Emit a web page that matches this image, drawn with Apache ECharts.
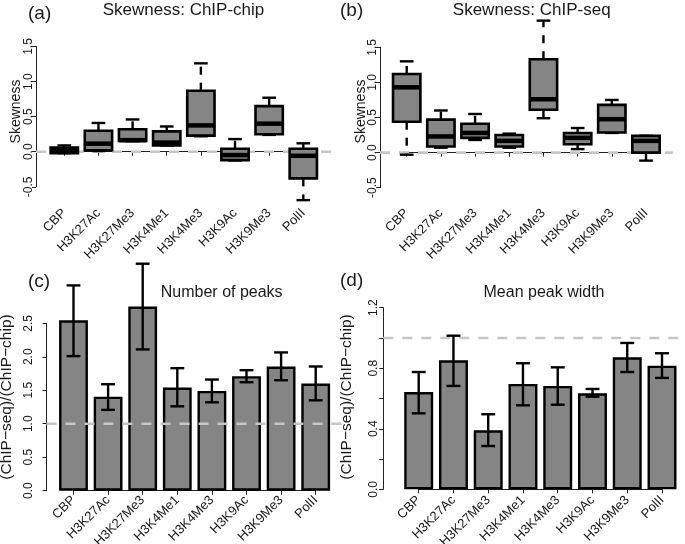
<!DOCTYPE html>
<html><head><meta charset="utf-8">
<script src="https://cdn.jsdelivr.net/npm/echarts@6/dist/echarts.min.js"></script>
<style>html,body{margin:0;padding:0;background:#fff}#c{width:685px;height:544px}</style>
</head><body><div id="c"></div>
<script>
// ---------- data ----------
const categories = ['CBP','H3K27Ac','H3K27Me3','H3K4Me1','H3K4Me3','H3K9Ac','H3K9Me3','PolII'];
// [lower whisker, Q1, median, Q3, upper whisker]
const skewChipChip = [
  [-0.02, -0.02, 0.02, 0.058, 0.09],
  [0.01, 0.02, 0.115, 0.30, 0.41],
  [0.15, 0.155, 0.165, 0.32, 0.46],
  [0.09, 0.09, 0.13, 0.29, 0.36],
  [0.22, 0.23, 0.375, 0.87, 1.26],
  [-0.125, -0.12, -0.048, 0.043, 0.18],
  [0.24, 0.25, 0.40, 0.65, 0.77],
  [-0.69, -0.38, -0.058, 0.043, 0.12]
];
const skewChipSeq = [
  [-0.03, 0.44, 0.93, 1.12, 1.30],
  [0.07, 0.086, 0.23, 0.47, 0.60],
  [0.18, 0.21, 0.28, 0.41, 0.55],
  [0.07, 0.086, 0.167, 0.25, 0.27],
  [0.49, 0.61, 0.76, 1.33, 1.88],
  [0.05, 0.12, 0.21, 0.28, 0.35],
  [0.28, 0.286, 0.476, 0.68, 0.75],
  [-0.114, 0.0, 0.167, 0.238, 0.24]
];
const peaksRatio = [2.545, 1.404, 2.75, 1.54, 1.49, 1.71, 1.855, 1.60];
const peaksLow   = [2.01, 1.207, 2.11, 1.26, 1.32, 1.62, 1.65, 1.35];
const peaksHigh  = [3.066, 1.59, 3.39, 1.83, 1.66, 1.80, 2.065, 1.855];
const widthRatio = [0.643, 0.852, 0.39, 0.696, 0.683, 0.634, 0.872, 0.817];
const widthLow   = [0.502, 0.683, 0.286, 0.555, 0.559, 0.612, 0.775, 0.736];
const widthHigh  = [0.775, 1.015, 0.496, 0.833, 0.806, 0.663, 0.967, 0.899];
const skewTickLabels  = [-0.5, 0, 0.5, 1, 1.5];
const peaksTickLabels = [0, 0.5, 1, 1.5, 2, 2.5];
const widthTickLabels = [0, 0.4, 0.8, 1.2];
const refSkew = 0;
const refRatio = 1;

// ---------- style / layout ----------
const FONT = '"Liberation Sans", Arial, Helvetica, sans-serif';
const TXT = '#1a1a1a';
const FILL = '#858585';
const DASH = '#c6c6c6';

const panels = [
  {grid:{left:64.3, top:46.5, width:239, height:140.3}, yOff:28.3, xOff:21.2, lblMargin:1,
   min:-0.5, max:1.5, interval:0.5, labels:skewTickLabels},
  {grid:{left:406.7, top:47.3, width:239.3, height:140.4}, yOff:26.7, xOff:20.3, lblMargin:1,
   min:-0.5, max:1.5, interval:0.5, labels:skewTickLabels},
  {grid:{left:73.5, top:323.3, width:242.2, height:167.4}, yOff:27, xOff:4.3, lblMargin:12,
   min:0, max:2.5, interval:0.5, labels:peaksTickLabels},
  {grid:{left:418.7, top:307.7, width:243.3, height:181.6}, yOff:35.4, xOff:5.7, lblMargin:4,
   min:0, max:1.2, interval:0.2, labels:widthTickLabels}
];

function boxRender(params, api) {
  const i = api.value(0);
  const lo = api.coord([i, api.value(1)]);
  const q1 = api.coord([i, api.value(2)]);
  const md = api.coord([i, api.value(3)]);
  const q3 = api.coord([i, api.value(4)]);
  const hi = api.coord([i, api.value(5)]);
  const band = api.coord([1, 0])[0] - api.coord([0, 0])[0];
  const hw = band * 0.4, cw = hw * 0.5, x = lo[0];
  const wStyle = {stroke:'#000', lineWidth:2.4, lineDash:[8, 8]};
  const sStyle = {stroke:'#000', lineWidth:2.4};
  return {type:'group', children:[
    {type:'line', shape:{x1:x, y1:q3[1], x2:x, y2:hi[1]}, style:wStyle},
    {type:'line', shape:{x1:x, y1:q1[1], x2:x, y2:lo[1]}, style:wStyle},
    {type:'line', shape:{x1:x-cw, y1:hi[1], x2:x+cw, y2:hi[1]}, style:sStyle},
    {type:'line', shape:{x1:x-cw, y1:lo[1], x2:x+cw, y2:lo[1]}, style:sStyle},
    {type:'rect', shape:{x:x-hw, y:q3[1], width:2*hw, height:q1[1]-q3[1]},
     style:{fill:FILL, stroke:'#000', lineWidth:2.6}},
    {type:'line', shape:{x1:x-hw, y1:md[1], x2:x+hw, y2:md[1]}, style:{stroke:'#000', lineWidth:4.5}}
  ]};
}
function errRender(params, api) {
  const i = api.value(0);
  const lo = api.coord([i, api.value(1)]);
  const hi = api.coord([i, api.value(2)]);
  const band = api.coord([1, 0])[0] - api.coord([0, 0])[0];
  const cw = band * 0.2, x = lo[0];
  const st = {stroke:'#000', lineWidth:2.4};
  return {type:'group', children:[
    {type:'line', shape:{x1:x, y1:lo[1], x2:x, y2:hi[1]}, style:st},
    {type:'line', shape:{x1:x-cw, y1:lo[1], x2:x+cw, y2:lo[1]}, style:st},
    {type:'line', shape:{x1:x-cw, y1:hi[1], x2:x+cw, y2:hi[1]}, style:st}
  ]};
}
function refRender(pad) {
  return function(params, api) {
    const v = api.value(1);
    const a = api.coord([0, v]);
    const b = api.coord([categories.length - 1, v]);
    return {type:'line', shape:{x1:a[0]-pad, y1:a[1], x2:b[0]+pad, y2:b[1]},
      style:{stroke:DASH, lineWidth:2.6, lineDash:[10, 9]}};
  };
}

const grids = panels.map(p => Object.assign({containLabel:false, outerBoundsMode:'none'}, p.grid));
const xAxes = panels.map((p, k) => ({
  gridIndex:k, type:'category', data:categories, boundaryGap:false, offset:p.xOff,
  axisLine:{show:true, lineStyle:{color:'#222', width:1}},
  axisTick:{show:true, length:4, alignWithLabel:true, lineStyle:{color:'#222', width:1}},
  axisLabel:{rotate:45, margin:3, interval:0, fontSize:13, color:TXT, fontFamily:FONT},
  splitLine:{show:false}
}));
const yAxes = panels.map((p, k) => ({
  gridIndex:k, type:'value', min:p.min, max:p.max, interval:p.interval, offset:p.yOff,
  axisLine:{show:true, lineStyle:{color:'#222', width:1}},
  axisTick:{show:true, length:4, lineStyle:{color:'#222', width:1}},
  axisLabel:{rotate:90, margin:p.lblMargin, fontSize:12, color:TXT, fontFamily:FONT,
    formatter: v => p.labels.some(t => Math.abs(t - v) < 1e-9) ? v.toFixed(1) : ''},
  splitLine:{show:false}
}));

const series = [
  {type:'custom', xAxisIndex:0, yAxisIndex:0, renderItem:refRender(panels[0].yOff), data:[[0, refSkew]], z:1, silent:true},
  {type:'custom', xAxisIndex:0, yAxisIndex:0, renderItem:boxRender, encode:{x:0, y:[1,2,3,4,5]},
   data:skewChipChip.map((s, i) => [i].concat(s)), z:2},
  {type:'custom', xAxisIndex:1, yAxisIndex:1, renderItem:refRender(panels[1].yOff), data:[[0, refSkew]], z:1, silent:true},
  {type:'custom', xAxisIndex:1, yAxisIndex:1, renderItem:boxRender, encode:{x:0, y:[1,2,3,4,5]},
   data:skewChipSeq.map((s, i) => [i].concat(s)), z:2},
  {type:'bar', xAxisIndex:2, yAxisIndex:2, data:peaksRatio, barWidth:'83.3%', clip:false, z:2,
   itemStyle:{color:FILL, borderColor:'#000', borderWidth:2.4}},
  {type:'custom', xAxisIndex:2, yAxisIndex:2, renderItem:errRender, encode:{x:0, y:[1,2]},
   data:peaksLow.map((l, i) => [i, l, peaksHigh[i]]), z:4},
  {type:'custom', xAxisIndex:2, yAxisIndex:2, renderItem:refRender(panels[2].yOff), data:[[0, refRatio]], z:3, silent:true},
  {type:'bar', xAxisIndex:3, yAxisIndex:3, data:widthRatio, barWidth:'83.3%', clip:false, z:2,
   itemStyle:{color:FILL, borderColor:'#000', borderWidth:2.4}},
  {type:'custom', xAxisIndex:3, yAxisIndex:3, renderItem:errRender, encode:{x:0, y:[1,2]},
   data:widthLow.map((l, i) => [i, l, widthHigh[i]]), z:4},
  {type:'custom', xAxisIndex:3, yAxisIndex:3, renderItem:refRender(panels[3].yOff), data:[[0, refRatio]], z:3, silent:true}
];

function txt(text, x, y, size, align, rot) {
  return {type:'text', x:x, y:y, rotation:rot || 0, silent:true,
    style:{text:text, fontSize:size, fontFamily:FONT, fill:TXT, align:align || 'center', verticalAlign:'middle'}};
}
const graphic = [
  txt('(a)', 28, 13.5, 19, 'left'),
  txt('Skewness: ChIP-chip', 183.5, 10, 17),
  txt('(b)', 340, 11, 19, 'left'),
  txt('Skewness: ChIP-seq', 531.7, 10, 17),
  txt('(c)', 28, 282, 19, 'left'),
  txt('Number of peaks', 221.7, 293, 16),
  txt('(d)', 340, 281, 19, 'left'),
  txt('Mean peak width', 544, 293, 16),
  txt('Skewness', 16, 111.5, 14, 'center', Math.PI / 2),
  txt('Skewness', 361, 111.5, 14, 'center', Math.PI / 2),
  txt('(ChIP\u2212seq)/(ChIP\u2212chip)', 7, 397, 15.5, 'center', Math.PI / 2),
  txt('(ChIP\u2212seq)/(ChIP\u2212chip)', 347, 397, 15.5, 'center', Math.PI / 2)
];

const chart = echarts.init(document.getElementById('c'), null, {renderer:'canvas'});
chart.setOption({
  animation:false, backgroundColor:'#fff',
  grid:grids, xAxis:xAxes, yAxis:yAxes, series:series, graphic:graphic
});
</script></body></html>
